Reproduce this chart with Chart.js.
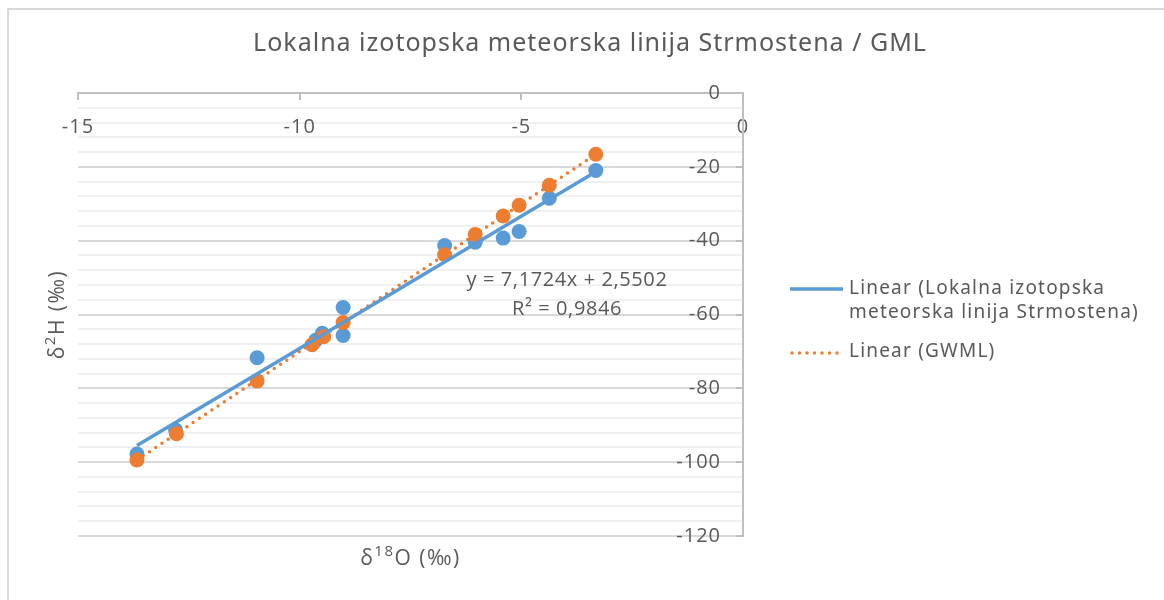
<!DOCTYPE html>
<html>
<head>
<meta charset="utf-8">
<script src="https://cdn.jsdelivr.net/npm/chart.js@4"></script>
<style>
html,body{margin:0;padding:0;background:#fff;}
#wrap{width:1164px;height:600px;position:relative;}
</style>
</head>
<body>
<div id="wrap"><canvas id="c" width="1164" height="600"></canvas></div>
<script>
// ---- data ----
const chartTitle = 'Lokalna izotopska meteorska linija Strmostena / GML';
const xAxisTitleParts = ['δ', '18', 'O (‰)'];   // base, superscript, base
const yAxisTitleParts = ['δ', '2', 'H (‰)'];
const localLabel = 'Lokalna izotopska meteorska linija Strmostena';
const gwmlLabel = 'GWML';
const legendLocalLines = ['Linear (Lokalna izotopska', 'meteorska linija Strmostena)'];
const legendGwmlLines = ['Linear (GWML)'];
const equationLines = ['y = 7,1724x + 2,5502', 'R² = 0,9846'];

const localO18 = [-13.67, -12.80, -10.96, -9.64, -9.49, -9.02, -9.02, -6.73, -6.04, -5.41, -5.05, -4.37, -3.32];
const localH2  = [-97.8, -91.3, -71.7, -67.0, -65.1, -58.1, -65.7, -41.3, -40.4, -39.3, -37.5, -28.5, -21.0];
const gwmlO18  = [-13.67, -12.78, -10.96, -9.72, -9.46, -9.02, -6.73, -6.04, -5.41, -5.05, -4.37, -3.32];
const gwmlH2   = [-99.4, -92.3, -78.0, -68.2, -66.0, -62.2, -43.8, -38.3, -33.3, -30.4, -25.0, -16.6];

const localTrendO18 = [-13.67, -3.32];
const localTrendH2  = [-95.5, -21.3];
const gwmlTrendO18  = [-13.67, -3.32];
const gwmlTrendH2   = [-99.4, -16.6];

const xTickValues = [-15, -10, -5, 0];
const yTickValues = [0, -20, -40, -60, -80, -100, -120];

// ---- styles ----
const BLUE = '#5B9BD5';
const ORANGE = '#ED7D31';
const TEXT = '#595959';
const AXIS = '#BFBFBF';
const FONT = '"Open Sans", "Noto Sans", sans-serif';
const LFONT = '"Noto Sans", sans-serif';

const toPts = (xs, ys) => xs.map((x, i) => ({x: x, y: ys[i]}));

function drawSupText(ctx, parts, size, supSize, spacing) {
  // draws base/sup/base centred on (0,0)
  ctx.letterSpacing = spacing + 'px';
  const fBase = size + 'px ' + FONT;
  const fSup = supSize + 'px ' + FONT;
  ctx.font = fBase; const w0 = ctx.measureText(parts[0]).width;
  ctx.font = fSup; const w1 = ctx.measureText(parts[1]).width;
  ctx.font = fBase; const w2 = ctx.measureText(parts[2]).width;
  let x = -(w0 + w1 + w2) / 2;
  ctx.textAlign = 'left';
  ctx.textBaseline = 'alphabetic';
  const base = size * 0.36;
  ctx.font = fBase; ctx.fillText(parts[0], x, base); x += w0;
  ctx.font = fSup; ctx.fillText(parts[1], x, base - size * 0.42); x += w1;
  ctx.font = fBase; ctx.fillText(parts[2], x, base);
}

const decor = {
  id: 'decor',
  beforeDraw(chart) {
    const ctx = chart.ctx;
    ctx.save();
    ctx.fillStyle = '#fff';
    ctx.fillRect(0, 0, chart.width, chart.height);
    ctx.strokeStyle = '#D9D9D9';
    ctx.lineWidth = 2;
    ctx.beginPath();
    ctx.moveTo(8, chart.height + 5);
    ctx.lineTo(8, 9);
    ctx.lineTo(chart.width + 5, 9);
    ctx.stroke();
    ctx.restore();
    ctx.letterSpacing = '1px';
  },
  afterDraw(chart) {
    const ctx = chart.ctx;
    const ca = chart.chartArea;
    const xs = chart.scales.x, ys = chart.scales.y;
    ctx.save();
    // inner tick marks
    ctx.strokeStyle = AXIS;
    ctx.lineWidth = 2;
    ctx.beginPath();
    xTickValues.forEach(v => {
      const px = Math.round(xs.getPixelForValue(v));
      ctx.moveTo(px, ca.top);
      ctx.lineTo(px, ca.top + 7);
    });
    yTickValues.forEach(v => {
      const py = Math.round(ys.getPixelForValue(v));
      ctx.moveTo(ca.right - 7, py);
      ctx.lineTo(ca.right, py);
    });
    ctx.stroke();

    ctx.fillStyle = TEXT;
    // title
    ctx.letterSpacing = '1px';
    ctx.font = '25px ' + LFONT;
    ctx.textAlign = 'center';
    ctx.textBaseline = 'middle';
    ctx.fillText(chartTitle, 590, 44);

    // axis titles
    ctx.save();
    ctx.translate((ca.left + ca.right) / 2, 557);
    drawSupText(ctx, xAxisTitleParts, 21, 15, 1.5);
    ctx.restore();
    ctx.save();
    ctx.translate(56, (ca.top + ca.bottom) / 2);
    ctx.rotate(-Math.PI / 2);
    drawSupText(ctx, yAxisTitleParts, 21, 15, 1.5);
    ctx.restore();

    // trendline equation
    ctx.letterSpacing = '0.6px';
    ctx.font = '20px ' + FONT;
    ctx.textAlign = 'center';
    ctx.textBaseline = 'middle';
    ctx.fillText(equationLines[0], 567, 280);
    ctx.fillText(equationLines[1], 567, 309);

    // legend
    ctx.letterSpacing = '1.2px';
    ctx.font = '19px ' + LFONT;
    ctx.textAlign = 'left';
    ctx.lineCap = 'butt';
    ctx.strokeStyle = BLUE;
    ctx.lineWidth = 3.5;
    ctx.beginPath();
    ctx.moveTo(790, 289);
    ctx.lineTo(843, 289);
    ctx.stroke();
    ctx.fillText(legendLocalLines[0], 849, 289);
    ctx.fillText(legendLocalLines[1], 849, 313);

    ctx.strokeStyle = ORANGE;
    ctx.lineCap = 'round';
    ctx.setLineDash([0, 7.5]);
    ctx.beginPath();
    ctx.moveTo(792, 353);
    ctx.lineTo(843, 353);
    ctx.stroke();
    ctx.setLineDash([]);
    ctx.fillText(legendGwmlLines[0], 849, 352);
    ctx.restore();
  }
};

new Chart(document.getElementById('c'), {
  type: 'scatter',
  data: {
    datasets: [
      {
        label: 'Linear (' + localLabel + ')',
        data: toPts(localTrendO18, localTrendH2),
        showLine: true,
        borderColor: BLUE,
        backgroundColor: BLUE,
        borderWidth: 3.5,
        pointRadius: 0,
        fill: false
      },
      {
        label: 'Linear (' + gwmlLabel + ')',
        data: toPts(gwmlTrendO18, gwmlTrendH2),
        showLine: true,
        borderColor: ORANGE,
        backgroundColor: ORANGE,
        borderWidth: 3.5,
        borderDash: [0, 7.5],
        borderCapStyle: 'round',
        pointRadius: 0,
        fill: false
      },
      {
        label: gwmlLabel,
        data: toPts(gwmlO18, gwmlH2),
        backgroundColor: ORANGE,
        borderColor: ORANGE,
        borderWidth: 0,
        pointRadius: 7.5
      },
      {
        label: localLabel,
        data: toPts(localO18, localH2),
        backgroundColor: BLUE,
        borderColor: BLUE,
        borderWidth: 0,
        pointRadius: 7.5
      }
    ]
  },
  options: {
    responsive: false,
    animation: false,
    layout: {padding: {left: 78, right: 421, top: 93, bottom: 64}},
    plugins: {
      legend: {display: false},
      title: {display: false},
      tooltip: {enabled: false}
    },
    scales: {
      x: {
        type: 'linear',
        position: 'top',
        min: -15,
        max: 0,
        afterFit(s) { s.paddingLeft = 0; s.paddingRight = 0; s.height = 0; },
        ticks: {
          stepSize: 5,
          autoSkip: false,
          maxRotation: 0,
          mirror: true,
          padding: 22,
          color: TEXT,
          font: {family: FONT, size: 20}
        },
        grid: {drawOnChartArea: false, drawTicks: false},
        border: {display: true, color: AXIS, width: 2}
      },
      y: {
        type: 'linear',
        position: 'right',
        min: -120,
        max: 0,
        afterFit(s) { s.paddingTop = 0; s.paddingBottom = 0; s.width = 0; },
        ticks: {
          stepSize: 4,
          autoSkip: false,
          mirror: true,
          crossAlign: 'near',
          padding: -22,
          color: TEXT,
          font: {family: FONT, size: 20},
          callback: (v) => (v % 20 === 0 ? String(v) : '')
        },
        grid: {
          drawTicks: false,
          lineWidth: 2,
          color: (c) => (c.tick && c.tick.value % 20 === 0 ? '#D9D9D9' : '#F0F0F0')
        },
        border: {display: true, color: AXIS, width: 2}
      }
    }
  },
  plugins: [decor]
});
</script>
</body>
</html>
